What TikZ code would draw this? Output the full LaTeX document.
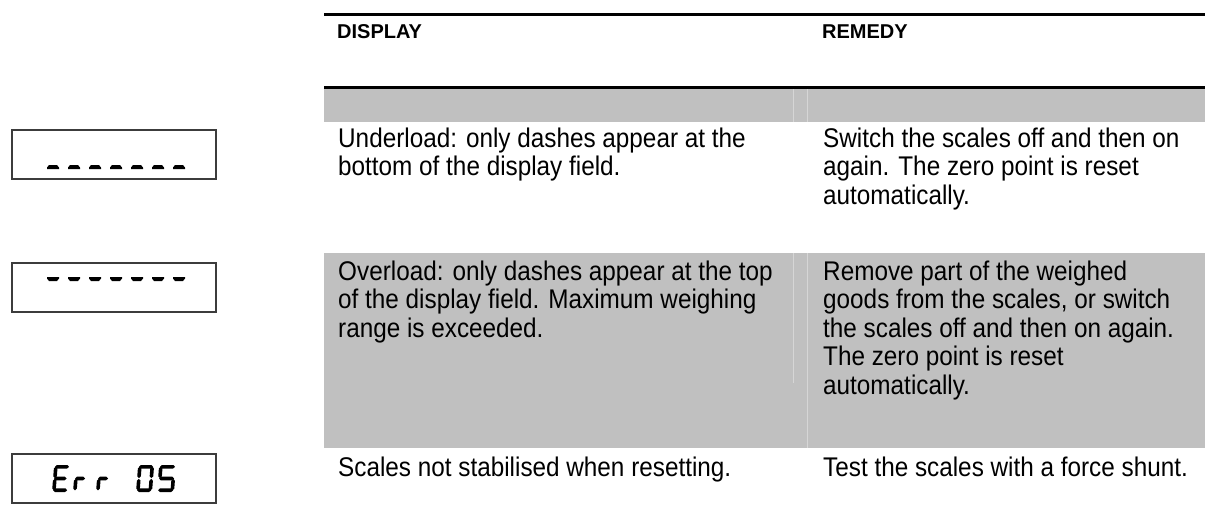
\documentclass[tikz,border=0pt]{standalone}
\usepackage{fontspec}
\setmainfont{Liberation Sans}[FakeStretch=0.9]
\newfontfamily\hdrfont{Liberation Sans}[FakeStretch=1.0]
\definecolor{cellgray}{RGB}{192,192,192}
\definecolor{sepgray}{RGB}{214,214,214}
\definecolor{boxline}{RGB}{60,60,60}
\newcommand\hsegm[3]{\fill (#1,#3) -- ({#1+1.8},{#3-1.8}) -- ({#2-1.8},{#3-1.8}) -- (#2,#3) -- ({#2-1.8},{#3+1.8}) -- ({#1+1.8},{#3+1.8}) -- cycle;}
\newcommand\vsegm[3]{\fill (#1,#2) -- ({#1+1.8},{#2+1.8}) -- ({#1+1.8},{#3-1.8}) -- (#1,#3) -- ({#1-1.8},{#3-1.8}) -- ({#1-1.8},{#2+1.8}) -- cycle;}
\newcommand\glyphE[1]{\begin{scope}[shift={(#1,492)},xslant=0.08]
 \hsegm{1}{15}{-25.2}\vsegm{1.8}{-25.4}{-13.9}\hsegm{1}{13.5}{-13.5}\vsegm{1.8}{-13.1}{-1.6}\hsegm{1}{15}{-1.8}\end{scope}}
\newcommand\glyphR[1]{\begin{scope}[shift={(#1,492)},xslant=0.08]
 \hsegm{1}{11}{-13.5}\vsegm{1.8}{-13.1}{-1.6}\end{scope}}
\newcommand\glyphZero[1]{\begin{scope}[shift={(#1,492)},xslant=0.08]
 \hsegm{1}{15}{-25.2}\vsegm{1.8}{-25.4}{-13.9}\vsegm{14.2}{-25.4}{-13.9}\vsegm{1.8}{-13.1}{-1.6}\vsegm{14.2}{-13.1}{-1.6}\hsegm{1}{15}{-1.8}\end{scope}}
\newcommand\glyphFive[1]{\begin{scope}[shift={(#1,492)},xslant=0.08]
 \hsegm{1}{16}{-25.2}\vsegm{1.8}{-25.4}{-13.9}\hsegm{1}{16}{-13.5}\vsegm{15.2}{-13.1}{-1.6}\hsegm{1}{16}{-1.8}\end{scope}}
\tikzset{
  body/.style={anchor=base west, inner sep=0pt, font=\fontsize{27}{28.5}\selectfont},
  hdr/.style={anchor=base west, inner sep=0pt, font=\hdrfont\bfseries\fontsize{20}{22}\selectfont},
  dispbox/.style={draw=boxline, line width=1.2pt, fill=white},
  rulestyle/.style={line width=3pt, black},
  sepline/.style={draw=sepgray, line width=1pt}
}
\begin{document}
\begin{tikzpicture}[x=1pt,y=-1pt]
\useasboundingbox (0,0) rectangle (1205,509);
\fill[white] (0,0) rectangle (1205,509);
% gray bands
\fill[cellgray] (324,89) rectangle (1205,122);
\fill[cellgray] (324,253) rectangle (1205,448);
\draw[sepline] (793,89) -- (793,122);
\draw[sepline] (807,89) -- (807,122);
\draw[sepline] (793,253) -- (793,383);
\draw[sepline] (807,253) -- (807,448);
% rules
\draw[rulestyle] (324,14.5) -- (1205,14.5);
\draw[rulestyle] (324,87.5) -- (1205,87.5);
% header
\node[hdr] (hdisp) at (337,38) {DISPLAY};
\node[hdr] (hrem) at (822,38) {REMEDY};
% row 1
\node[body] (r1a) at (338,147) {\vtop{\hbox{Underload: only dashes appear at the}\hbox{bottom of the display field.}}};
\node[body] (r1b) at (823,147) {\vtop{\hbox{Switch the scales off and then on}\hbox{again. The zero point is reset}\hbox{automatically.}}};
% row 2
\node[body] (r2a) at (338,280) {\vtop{\hbox{Overload: only dashes appear at the top}\hbox{of the display field. Maximum weighing}\hbox{range is exceeded.}}};
\node[body] (r2b) at (823,280) {\vtop{\hbox{Remove part of the weighed}\hbox{goods from the scales, or switch}\hbox{the scales off and then on again.}\hbox{The zero point is reset}\hbox{automatically.}}};
% row 3
\node[body] (r3a) at (338,476) {Scales not stabilised when resetting.};
\node[body] (r3b) at (823,476) {Test the scales with a force shunt.};
% display boxes
\draw[dispbox] (12,130) rectangle (216,179);
\draw[dispbox] (12,263) rectangle (216,312);
\draw[dispbox] (12,454) rectangle (216,503);
% underload dashes (bottom)
\foreach \i in {0,...,6}{
  \fill ({47+21*\i},169) -- ({59+21*\i},169) -- ({59+21*\i},167.5) -- ({57+21*\i},165) -- ({49+21*\i},165) -- ({47+21*\i},167.5) -- cycle;
}
% overload dashes (top)
\foreach \i in {0,...,6}{
  \fill ({47+21*\i},277) -- ({59+21*\i},277) -- ({59+21*\i},278.5) -- ({57+21*\i},281) -- ({49+21*\i},281) -- ({47+21*\i},278.5) -- cycle;
}
% Err 05
\glyphE{52}
\glyphR{73}
\glyphR{96}
\glyphZero{136}
\glyphFive{157}
\end{tikzpicture}
\end{document}
